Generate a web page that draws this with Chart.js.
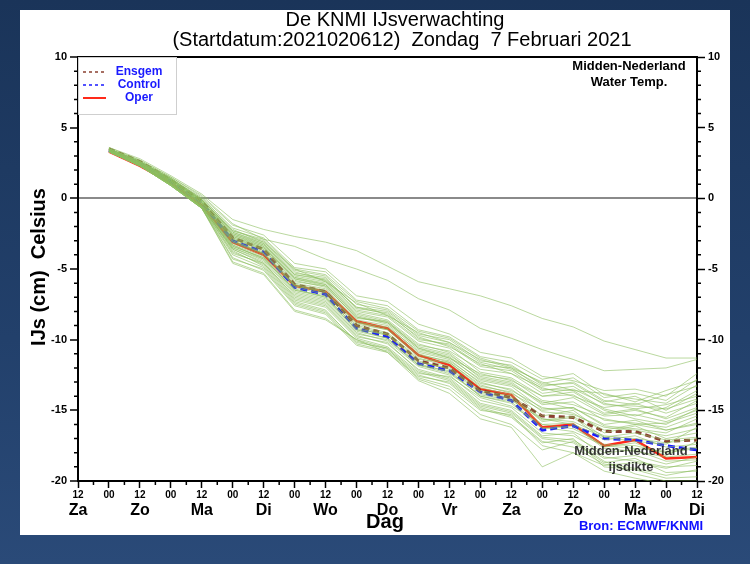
<!DOCTYPE html>
<html>
<head>
<meta charset="utf-8">
<script src="https://cdn.jsdelivr.net/npm/chart.js@4"></script>
<style>
  html, body { margin: 0; padding: 0; }
  body {
    width: 750px; height: 564px; overflow: hidden; position: relative;
    background: linear-gradient(to bottom, #1a3459 0%, #22406b 60%, #2a4a78 100%);
  }
  #paneel { position: absolute; left: 20px; top: 10px; width: 710px; height: 525px; background: #fff; }
  #grafiek { display: block; }
</style>
</head>
<body>
<div id="paneel"><canvas id="grafiek" width="710" height="525"></canvas></div>
<script>
// --- Assen ---
const uurLabels = ['12','00','12','00','12','00','12','00','12','00','12','00','12','00','12','00','12','00','12','00','12'];
const dagLabels = ['Za','Zo','Ma','Di','Wo','Do','Vr','Za','Zo','Ma','Di'];
const yTicks = [-20, -15, -10, -5, 0, 5, 10];

// --- Hoofdlijnen (waarde per 12 uur, vanaf 00 Zo) ---
const oper    = [3.3, 2.3, 1.1, -0.5, -3.1, -4.0, -6.2, -6.6, -8.7, -9.2, -11.1, -11.8, -13.5, -13.9, -16.2, -16.0, -17.5, -17.1, -18.4, -18.3];
const control = [3.4, 2.5, 1.2, -0.3, -3.0, -3.8, -6.3, -6.8, -9.2, -9.8, -11.7, -12.2, -13.7, -14.3, -16.4, -16.1, -17.0, -17.1, -17.5, -17.8];
const ensgem  = [3.5, 2.6, 1.3, -0.2, -2.8, -3.6, -6.1, -6.6, -9.0, -9.6, -11.5, -12.0, -13.6, -14.1, -15.4, -15.5, -16.5, -16.5, -17.2, -17.1];

// --- Ensemble leden ---
const ensembleLeden = [
  [3.6,2.8,1.6,0.3,-1.5,-2.2,-2.7,-3.1,-3.7,-4.8,-5.9,-6.4,-6.9,-7.6,-8.5,-9.1,-10.1,-10.7,-11.3,-11.3],
  [3.6,2.7,1.5,0.2,-1.8,-2.9,-3.4,-4.3,-5.0,-5.8,-7.1,-7.9,-9.2,-9.9,-10.7,-11.4,-12.2,-12.1,-12.0,-11.4],
  [3.5,2.7,1.5,0.1,-1.9,-2.6,-4.6,-5.0,-6.9,-7.3,-8.9,-9.6,-10.9,-11.3,-12.6,-12.9,-13.6,-13.5,-14.0,-12.4],
  [3.5,2.6,1.4,0.0,-2.1,-2.8,-4.9,-5.2,-7.2,-7.6,-9.3,-9.8,-11.2,-11.6,-12.8,-12.4,-13.9,-14.2,-14.5,-13.2],
  [3.5,2.6,1.4,-0.1,-2.3,-3.0,-5.1,-5.5,-7.5,-7.9,-9.6,-10.0,-11.5,-11.8,-13.2,-13.1,-14.4,-14.0,-15.0,-13.8],
  [3.5,2.6,1.3,-0.1,-2.4,-3.2,-5.3,-5.6,-7.8,-8.1,-9.9,-10.4,-11.9,-12.2,-13.6,-13.3,-14.6,-14.7,-14.9,-14.2],
  [3.4,2.5,1.3,-0.2,-2.5,-3.3,-5.5,-5.9,-8.0,-8.4,-10.1,-10.6,-12.3,-12.7,-14.0,-13.9,-15.2,-14.9,-15.6,-14.8],
  [3.5,2.6,1.4,-0.2,-2.6,-3.4,-5.6,-6.0,-8.1,-8.6,-10.3,-10.9,-12.5,-12.8,-14.3,-14.6,-15.4,-15.3,-15.8,-15.0],
  [3.4,2.5,1.3,-0.3,-2.7,-3.5,-5.7,-6.1,-8.3,-8.8,-10.5,-11.0,-12.7,-13.1,-14.6,-14.4,-15.7,-15.9,-16.2,-15.4],
  [3.4,2.5,1.2,-0.3,-2.8,-3.6,-5.8,-6.3,-8.4,-8.9,-10.7,-11.2,-12.9,-13.3,-14.9,-14.8,-16.0,-15.7,-16.4,-15.9],
  [3.4,2.5,1.2,-0.4,-2.9,-3.7,-6.0,-6.4,-8.6,-9.0,-10.9,-11.4,-13.1,-13.5,-15.1,-15.3,-16.2,-16.4,-16.8,-16.3],
  [3.4,2.4,1.2,-0.4,-3.0,-3.8,-6.1,-6.5,-8.7,-9.2,-11.0,-11.6,-13.3,-13.7,-15.4,-15.0,-16.6,-16.1,-17.0,-16.6],
  [3.4,2.4,1.1,-0.5,-3.1,-3.9,-6.2,-6.7,-8.9,-9.3,-11.2,-11.7,-13.4,-13.9,-15.6,-15.8,-16.8,-17.0,-17.3,-17.0],
  [3.4,2.4,1.1,-0.5,-3.2,-4.0,-6.3,-6.8,-9.0,-9.5,-11.3,-11.9,-13.6,-14.0,-15.8,-15.5,-17.1,-16.8,-17.6,-17.4],
  [3.3,2.4,1.1,-0.5,-3.3,-4.1,-6.5,-6.9,-9.2,-9.7,-11.5,-12.1,-13.8,-14.2,-16.0,-16.3,-17.4,-17.5,-18.0,-17.7],
  [3.3,2.4,1.0,-0.6,-3.4,-4.2,-6.6,-7.1,-9.3,-9.9,-11.7,-12.3,-14.0,-14.5,-16.3,-16.1,-17.7,-17.9,-18.3,-18.1],
  [3.3,2.3,1.0,-0.6,-3.5,-4.4,-6.8,-7.3,-9.5,-10.1,-11.9,-12.5,-14.3,-14.8,-16.6,-16.8,-18.0,-17.8,-18.6,-18.5],
  [3.3,2.3,1.0,-0.6,-3.6,-4.5,-7.0,-7.5,-9.7,-10.3,-12.1,-12.7,-14.5,-15.0,-16.8,-16.6,-18.3,-18.6,-19.0,-18.9],
  [3.3,2.3,1.0,-0.7,-3.8,-4.7,-7.2,-7.7,-9.9,-10.5,-12.3,-12.9,-14.7,-15.2,-17.0,-17.3,-18.7,-18.4,-19.4,-19.3],
  [3.3,2.3,0.9,-0.7,-4.0,-4.9,-7.4,-8.0,-10.1,-10.7,-12.5,-13.1,-14.9,-15.5,-17.3,-17.0,-19.0,-19.2,-19.8,-19.7],
  [3.3,2.3,0.9,-0.7,-4.5,-5.3,-7.9,-8.5,-10.0,-10.6,-12.8,-13.5,-15.3,-16.0,-17.8,-17.2,-18.6,-19.5,-20.0,-20.0],
  [3.5,2.6,1.4,0.0,-2.2,-3.1,-5.0,-5.9,-7.4,-8.3,-9.5,-10.2,-11.4,-12.0,-13.0,-13.6,-13.8,-14.4,-13.6,-12.9],
  [3.4,2.5,1.3,-0.2,-2.6,-3.3,-5.4,-5.8,-7.9,-8.3,-10.0,-10.3,-11.8,-12.0,-13.5,-13.6,-14.9,-15.4,-14.8,-13.6],
  [3.4,2.5,1.2,-0.3,-2.9,-3.6,-5.9,-6.2,-8.5,-8.7,-10.6,-11.1,-12.6,-13.0,-14.5,-14.1,-15.3,-15.0,-15.5,-14.3],
  [3.4,2.4,1.2,-0.4,-3.0,-3.9,-6.1,-6.6,-8.8,-9.1,-10.8,-11.3,-12.4,-12.9,-14.0,-13.7,-15.0,-15.6,-16.0,-14.9],
  [3.4,2.4,1.1,-0.5,-3.3,-4.3,-6.4,-7.0,-9.1,-9.6,-11.4,-11.6,-13.2,-13.8,-15.0,-14.8,-16.1,-16.3,-16.6,-15.6],
  [3.3,2.3,1.0,-0.6,-3.6,-4.6,-6.9,-7.4,-9.6,-10.0,-11.8,-12.4,-13.9,-14.3,-15.6,-16.0,-16.9,-17.2,-17.4,-16.2],
  [3.3,2.3,1.0,-0.6,-3.7,-4.8,-7.3,-7.9,-10.2,-10.6,-12.4,-12.6,-14.1,-14.7,-16.0,-15.9,-17.6,-17.3,-18.2,-17.2],
  [3.3,2.3,0.9,-0.7,-4.2,-5.1,-7.6,-8.2,-10.4,-10.9,-12.7,-13.3,-15.0,-15.3,-17.5,-18.0,-18.9,-18.7,-19.1,-18.6],
  [3.3,2.3,0.9,-0.7,-4.6,-5.4,-8.0,-8.6,-10.0,-10.9,-12.9,-13.8,-15.6,-16.2,-19.0,-18.0,-19.3,-19.8,-20.2,-20.4],
  [3.4,2.5,1.2,-0.3,-2.7,-3.4,-5.6,-6.1,-8.2,-8.7,-10.4,-10.8,-12.1,-12.4,-13.8,-13.5,-14.5,-14.9,-14.6,-14.0],
  [3.5,2.6,1.3,-0.1,-2.4,-3.1,-5.2,-5.8,-7.7,-8.2,-9.8,-10.5,-11.7,-12.4,-13.4,-14.0,-14.8,-14.5,-15.2,-14.5],
  [3.4,2.5,1.2,-0.3,-2.8,-3.5,-5.7,-6.2,-8.4,-8.8,-10.6,-11.3,-12.8,-13.2,-14.4,-14.9,-15.6,-16.0,-15.9,-15.2],
  [3.4,2.4,1.1,-0.4,-3.1,-3.9,-6.2,-6.6,-8.8,-9.3,-11.1,-11.5,-13.0,-13.6,-14.8,-15.2,-16.4,-16.0,-16.4,-16.0],
  [3.3,2.4,1.1,-0.5,-3.4,-4.2,-6.5,-7.0,-9.3,-9.6,-11.6,-12.0,-13.7,-14.1,-15.7,-15.4,-16.9,-16.6,-17.1,-16.9],
  [3.3,2.3,1.0,-0.6,-3.5,-4.3,-6.7,-7.2,-9.4,-9.9,-11.8,-12.2,-14.0,-14.4,-16.2,-16.5,-17.5,-17.7,-17.9,-17.6],
  [3.3,2.3,1.0,-0.6,-3.9,-4.6,-7.1,-7.6,-9.8,-10.2,-12.2,-12.8,-14.6,-15.1,-16.9,-17.1,-18.4,-18.2,-18.8,-18.3],
  [3.3,2.3,0.9,-0.7,-4.3,-5.0,-7.5,-8.1,-10.3,-10.8,-12.6,-13.0,-14.8,-15.4,-17.2,-17.6,-18.8,-19.1,-19.6,-19.2],
  [3.5,2.6,1.4,-0.1,-2.3,-2.9,-5.0,-5.4,-7.3,-7.8,-9.4,-9.9,-11.3,-11.9,-13.1,-12.7,-14.1,-13.8,-14.3,-12.8],
  [3.4,2.5,1.3,-0.2,-2.5,-3.2,-5.4,-5.7,-7.7,-8.0,-9.7,-10.2,-11.6,-12.1,-13.3,-13.0,-14.3,-14.6,-13.9,-13.3]
];

const FONT = "'Liberation Sans', Arial, sans-serif";

// reeks -> punten, eerste waarde op 00 Zo (index 1 op de x-as)
function naarPunten(reeks) {
    return reeks.map((v, i) => ({ x: i + 1, y: v }));
}

const datasets = [];
ensembleLeden.forEach(lid => {
    datasets.push({
        data: naarPunten(lid),
        borderColor: 'rgba(140, 190, 95, 0.6)',
        borderWidth: 1,
        pointRadius: 0,
        tension: 0
    });
});
datasets.push({ data: naarPunten(ensgem), borderColor: '#8a4030', borderWidth: 3, borderDash: [6, 4], pointRadius: 0 });
datasets.push({ data: naarPunten(control), borderColor: '#1a1aff', borderWidth: 3, borderDash: [7, 4], pointRadius: 0 });
datasets.push({ data: naarPunten(oper), borderColor: '#ff2a1a', borderWidth: 2.5, pointRadius: 0 });

// Teksten, legenda, kader en kleine streepjes
const extraTekst = {
    id: 'extraTekst',
    afterDraw(chart) {
        const ctx = chart.ctx;
        const a = chart.chartArea;
        const xs = chart.scales.x, ys = chart.scales.y;
        ctx.save();

        // kader boven
        ctx.strokeStyle = '#000';
        ctx.lineWidth = 2;
        ctx.beginPath();
        ctx.moveTo(a.left, a.top); ctx.lineTo(a.right, a.top);
        ctx.stroke();

        // kleine streepjes
        ctx.lineWidth = 1.5;
        ctx.beginPath();
        for (let v = -20; v <= 10; v++) {
            if (v % 5 === 0) continue;
            const py = ys.getPixelForValue(v);
            ctx.moveTo(a.left - 4, py); ctx.lineTo(a.left, py);
            ctx.moveTo(a.right, py); ctx.lineTo(a.right + 4, py);
        }
        for (let k = 0; k < 20; k++) {
            const px = xs.getPixelForValue(k + 0.5);
            ctx.moveTo(px, a.bottom); ctx.lineTo(px, a.bottom + 4);
        }
        ctx.stroke();

        // titel
        ctx.fillStyle = '#000';
        ctx.textAlign = 'center';
        ctx.textBaseline = 'middle';
        ctx.font = '20px ' + FONT;
        ctx.fillText('De KNMI IJsverwachting', 375, 10);
        ctx.fillText('(Startdatum:2021020612)  Zondag  7 Februari 2021', 382, 30);

        // y-as titel
        ctx.save();
        ctx.translate(19, 257);
        ctx.rotate(-Math.PI / 2);
        ctx.font = 'bold 20px ' + FONT;
        ctx.fillText('IJs (cm)  Celsius', 0, 0);
        ctx.restore();

        // x-as titel
        ctx.font = 'bold 20px ' + FONT;
        ctx.fillText('Dag', 365, 512);

        // rechtsboven
        ctx.font = 'bold 13px ' + FONT;
        ctx.fillText('Midden-Nederland', 609, 56);
        ctx.fillText('Water Temp.', 609, 72);

        // rechtsonder
        ctx.fillStyle = 'rgba(20,20,20,0.85)';
        ctx.fillText('Midden-Nederland', 611, 441);
        ctx.fillText('ijsdikte', 611, 457);

        ctx.fillStyle = '#1010ff';
        ctx.fillText('Bron: ECMWF/KNMI', 621, 516);

        // legenda
        ctx.fillStyle = '#fff';
        ctx.fillRect(a.left + 1, a.top + 1, 98, 56);
        ctx.strokeStyle = '#cfcfcf';
        ctx.lineWidth = 1;
        ctx.strokeRect(a.left + 0.5, a.top + 0.5, 98, 57);
        const items = [
            { t: 'Ensgem', c: '#8a4030', d: [3, 3], w: 1.5, y: 62 },
            { t: 'Control', c: '#1a1aff', d: [3, 3], w: 1.5, y: 75 },
            { t: 'Oper', c: '#ff2a1a', d: [], w: 2, y: 88 }
        ];
        items.forEach(it => {
            ctx.strokeStyle = it.c;
            ctx.lineWidth = it.w;
            ctx.setLineDash(it.d);
            ctx.beginPath();
            ctx.moveTo(63, it.y); ctx.lineTo(86, it.y);
            ctx.stroke();
            ctx.setLineDash([]);
            ctx.fillStyle = '#1a1aff';
            ctx.font = 'bold 12px ' + FONT;
            ctx.fillText(it.t, 119, it.y);
        });

        ctx.restore();
    }
};

new Chart(document.getElementById('grafiek').getContext('2d'), {
    type: 'line',
    data: { datasets: datasets },
    options: {
        responsive: false,
        animation: false,
        events: [],
        layout: { padding: { top: 47, left: 0, right: 0, bottom: 0 } },
        plugins: { legend: { display: false }, tooltip: { enabled: false }, title: { display: false } },
        scales: {
            x: {
                type: 'linear', min: 0, max: 20, position: 'bottom',
                afterFit: s => { s.height = 20; },
                afterBuildTicks: s => { s.ticks = uurLabels.map((_, i) => ({ value: i })); },
                ticks: {
                    autoSkip: false, maxRotation: 0, padding: 1, color: '#000',
                    font: { family: FONT, size: 10, weight: 'bold' },
                    callback: (v, i) => uurLabels[i]
                },
                grid: { drawOnChartArea: false, tickLength: 7, tickColor: '#000', tickWidth: 1.5 },
                border: { color: '#000', width: 2 }
            },
            x2: {
                type: 'linear', min: 0, max: 20, position: 'bottom',
                afterFit: s => { s.height = 34; },
                afterBuildTicks: s => { s.ticks = dagLabels.map((_, i) => ({ value: i * 2 })); },
                ticks: {
                    autoSkip: false, maxRotation: 0, padding: 0, color: '#000',
                    font: { family: FONT, size: 16, weight: 'bold' },
                    callback: (v, i) => dagLabels[i]
                },
                grid: { display: false, drawTicks: false, tickLength: 0 },
                border: { display: false }
            },
            y: {
                type: 'linear', min: -20, max: 10, position: 'left',
                afterFit: s => { s.width = 58; },
                afterBuildTicks: s => { s.ticks = yTicks.map(v => ({ value: v })); },
                ticks: { padding: 3, color: '#000', font: { family: FONT, size: 11, weight: 'bold' } },
                grid: {
                    color: c => (c.tick && c.tick.value === 0) ? '#8a8a8a' : 'rgba(0,0,0,0)',
                    lineWidth: 2, tickLength: 8, tickColor: '#000', tickWidth: 1.5
                },
                border: { color: '#000', width: 2 }
            },
            y2: {
                type: 'linear', min: -20, max: 10, position: 'right',
                afterFit: s => { s.width = 33; },
                afterBuildTicks: s => { s.ticks = yTicks.map(v => ({ value: v })); },
                ticks: { padding: 3, color: '#000', font: { family: FONT, size: 11, weight: 'bold' } },
                grid: { drawOnChartArea: false, tickLength: 8, tickColor: '#000', tickWidth: 1.5 },
                border: { color: '#000', width: 2 }
            }
        }
    },
    plugins: [extraTekst]
});
</script>
</body>
</html>
